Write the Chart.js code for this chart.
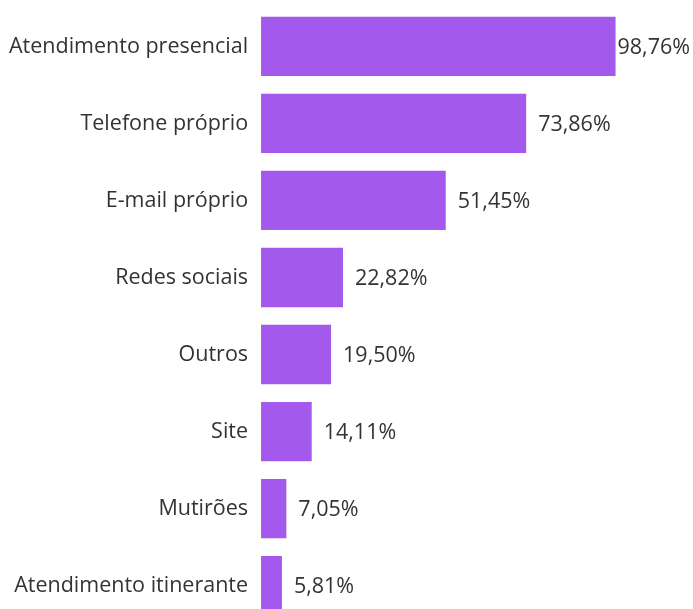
<!DOCTYPE html>
<html>
<head>
<meta charset="utf-8">
<script src="https://cdn.jsdelivr.net/npm/chart.js@4"></script>
<style>
  html, body { margin: 0; padding: 0; background: #ffffff; overflow: hidden; }
  #wrap { position: relative; top: -18px; width: 693px; height: 668px; }
</style>
</head>
<body>
<div id="wrap"><canvas id="chart"></canvas></div>
<script>
// Canais de atendimento (percentual)
const categories = [
  "Atendimento presencial",
  "Telefone próprio",
  "E-mail próprio",
  "Redes sociais",
  "Outros",
  "Site",
  "Mutirões",
  "Atendimento itinerante"
];
const values = [98.76, 73.86, 51.45, 22.82, 19.50, 14.11, 7.05, 5.81];

const FONT = "'Open Sans', 'Noto Sans', sans-serif";
const TEXT = "#333333";
const BAR = "#a259ec";

const fmt = v => v.toFixed(2).replace(".", ",") + "%";

// Value labels drawn after each bar's end, kept inside the canvas
const valueLabels = {
  id: "valueLabels",
  afterDatasetsDraw(chart) {
    const ctx = chart.ctx;
    const meta = chart.getDatasetMeta(0);
    ctx.save();
    ctx.font = "21.5px " + FONT;
    ctx.fillStyle = TEXT;
    ctx.textBaseline = "middle";
    ctx.textAlign = "left";
    meta.data.forEach((bar, i) => {
      const txt = fmt(values[i]);
      const w = ctx.measureText(txt).width;
      let x = bar.x + 12;
      if (x + w > chart.width - 3) x = chart.width - 3 - w;
      ctx.fillText(txt, x, bar.y + 1);
    });
    ctx.restore();
  }
};

new Chart(document.getElementById("chart"), {
  type: "bar",
  data: {
    labels: categories,
    datasets: [{
      data: values,
      backgroundColor: BAR,
      borderWidth: 0,
      categoryPercentage: 0.77,
      barPercentage: 1.0
    }]
  },
  options: {
    indexAxis: "y",
    responsive: true,
    maintainAspectRatio: false,
    animation: false,
    layout: { padding: { top: 0, right: 73, bottom: 0, left: -4 } },
    plugins: {
      legend: { display: false },
      tooltip: { enabled: false }
    },
    scales: {
      x: {
        min: 0,
        max: 100,
        display: false
      },
      y: {
        grid: { display: false, drawTicks: false, tickLength: 0 },
        border: { display: false },
        ticks: {
          color: TEXT,
          font: { family: FONT, size: 21.5 },
          padding: 13
        }
      }
    }
  },
  plugins: [valueLabels]
});
</script>
</body>
</html>
